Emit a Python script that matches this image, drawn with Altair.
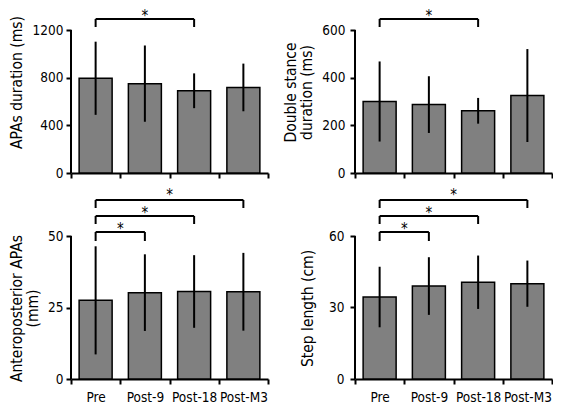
import altair as alt
import pandas as pd

# ---------------- data ----------------
cats = ["Pre", "Post-9", "Post-18", "Post-M3"]

apas_mean = [795, 750, 690, 718]
apas_sd = [307, 320, 146, 200]
ds_mean = [300, 287, 261, 325]
ds_sd = [168, 119, 54, 195]
ap_mean = [27.5, 30.2, 30.6, 30.5]
ap_sd = [18.9, 13.4, 12.7, 13.6]
sl_mean = [34.4, 39.0, 40.6, 40.0]
sl_sd = [12.7, 12.1, 11.2, 9.7]

apas_ticks = [0, 400, 800, 1200]
ds_ticks = [0, 200, 400, 600]
ap_ticks = [0, 25, 50]
sl_ticks = [0, 30, 60]

apas_sig = ["Post-18"]
ds_sig = ["Post-18"]
ap_sig = ["Post-9", "Post-18", "Post-M3"]
sl_sig = ["Post-9", "Post-18", "Post-M3"]

# ---------------- style ----------------
FONT = "DejaVu Sans Condensed, DejaVu Sans"
W = 197
SPAN = 143  # px from 0 to axis max


def panel(mean, sd, ticks, title, sig, top_row, title_x, label_pad, title_y):
    amax = ticks[-1]
    if top_row:
        h = 164
        lev = [(11, 3, 9)]
    else:
        h = 191
        lev = [(4, -5, 2), (20, 12, 18), (36, 28, 36)]
    ext = amax * h / SPAN

    def v(off):
        return amax * (1 + off / SPAN)

    df = pd.DataFrame({
        "cat": cats,
        "mean": mean,
        "lo": [m - s for m, s in zip(mean, sd)],
        "hi": [m + s for m, s in zip(mean, sd)],
    })

    xscale = alt.Scale(domain=cats, paddingInner=0, paddingOuter=0)
    yscale = alt.Scale(domain=[0, ext], nice=False, zero=True)
    xaxis = alt.Axis(title=None, labels=not top_row, labelAngle=0, labelFont=FONT,
                     labelFontSize=13.5, labelColor="black", labelPadding=6,
                     domainColor="black", domainWidth=2, tickColor="black",
                     tickWidth=2, tickSize=5, tickBand="extent", grid=False)
    yaxis = alt.Axis(title=title, values=ticks, format="d", domain=False,
                     tickColor="black", tickWidth=2, tickSize=5, labelFont=FONT,
                     labelFontSize=13.5, labelColor="black", labelPadding=label_pad,
                     titleFont=FONT, titleFontSize=15.5, titleFontWeight="normal",
                     titleColor="black", titleLineHeight=16, titleX=title_x,
                     titleY=title_y, titleBaseline="bottom", titleAngle=270,
                     grid=False)

    def X(field, bp=None):
        if bp is None:
            return alt.X(field, type="nominal", scale=xscale, axis=xaxis, sort=cats)
        return alt.X(field, type="nominal", scale=xscale, axis=xaxis, sort=cats,
                     bandPosition=bp)

    def Y(field):
        return alt.Y(field, type="quantitative", scale=yscale, axis=yaxis)

    base = alt.Chart(df)
    bars = base.mark_bar(width={"band": 0.67}, fill="#808080", stroke="black",
                         strokeWidth=1.5).encode(x=X("cat"), y=Y("mean"))
    err = base.mark_rule(color="black", strokeWidth=2).encode(
        x=X("cat"), y=Y("lo"), y2="hi")
    yline = alt.Chart(pd.DataFrame({"a": [0], "b": [amax]})).mark_rule(
        color="black", strokeWidth=2).encode(x=alt.value(0), y=Y("a"), y2="b")

    hrows, lrows, s0, s5 = [], [], [], []
    for t, (ln, lb, sb) in zip(sig, lev):
        hrows.append({"a": "Pre", "b": t, "y": v(ln)})
        lrows.append({"c": "Pre", "y": v(ln), "y2": v(lb)})
        lrows.append({"c": t, "y": v(ln), "y2": v(lb)})
        ti = cats.index(t)
        pos = (ti + 1) / 2.0
        k = int(pos)
        if pos - k > 0.25:
            s5.append({"c": cats[k], "y": v(sb)})
        else:
            s0.append({"c": cats[k], "y": v(sb)})

    hb = alt.Chart(pd.DataFrame(hrows)).mark_rule(color="black", strokeWidth=2).encode(
        x=X("a", 0.5), x2=alt.X2("b", bandPosition=0.5), y=Y("y"))
    legs = alt.Chart(pd.DataFrame(lrows)).mark_rule(color="black", strokeWidth=2).encode(
        x=X("c", 0.5), y=Y("y"), y2="y2")
    layers = [bars, err, yline, hb, legs]
    for rows, bp in ((s0, 0), (s5, 0.5)):
        if rows:
            layers.append(alt.Chart(pd.DataFrame(rows)).mark_text(
                text="*", font=FONT, fontSize=15, baseline="alphabetic",
                align="center", fill="black").encode(x=X("c", bp), y=Y("y")))
    return alt.layer(*layers).properties(width=W, height=h)


p1 = panel(apas_mean, apas_sd, apas_ticks, "APAs duration (ms)", apas_sig,
           True, -47, 3, 73)
p2 = panel(ds_mean, ds_sd, ds_ticks, ["Double stance", "duration (ms)"], ds_sig,
           True, -57, 5, 83)
p3 = panel(ap_mean, ap_sd, ap_ticks, ["Anteroposterior APAs", "(mm)"], ap_sig,
           False, -47, 3, 120)
p4 = panel(sl_mean, sl_sd, sl_ticks, "Step length (cm)", sl_sig,
           False, -40, 6, 120)

chart = alt.concat(p1, p2, p3, p4, columns=2,
                   spacing={"row": 8, "column": 14}).configure_view(
    stroke=None).properties(padding=0, background="white")

chart.save("out.html", embed_options={"renderer": "svg", "actions": False})
